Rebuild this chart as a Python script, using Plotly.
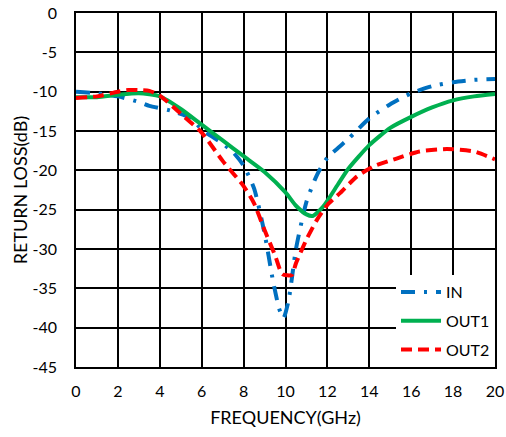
import plotly.graph_objects as go

in_freq = [0, 1, 2, 3, 3.5, 4.5, 5.5, 6, 7, 7.5, 8, 8.5, 9, 9.4, 9.7, 9.9, 10.15, 10.5, 11, 11.5, 12, 13, 14, 15, 16, 17, 18, 19, 20]
in_db = [-10.0, -10.2, -10.6, -11.3, -11.8, -12.4, -13.4, -14.8, -16.6, -17.7, -19.4, -22.3, -28.0, -34.0, -37.6, -38.8, -36.5, -30.0, -24.0, -20.6, -18.4, -16.0, -13.4, -11.6, -10.2, -9.3, -8.8, -8.5, -8.4]

out1_freq = [0, 1, 2, 3, 4, 5, 6, 7, 8, 9, 10, 10.5, 11, 11.3, 11.8, 12.5, 13, 14, 15, 16, 17, 18, 19, 20]
out1_db = [-10.7, -10.7, -10.4, -10.2, -10.6, -12.2, -14.2, -16.2, -18.2, -20.2, -22.8, -24.5, -25.6, -25.8, -24.6, -21.8, -19.8, -16.8, -14.6, -13.2, -12.0, -11.1, -10.6, -10.3]

out2_freq = [0, 1, 2, 2.5, 3, 3.5, 4, 5, 6, 7, 8, 8.5, 9, 9.5, 9.85, 10.3, 10.5, 11, 11.5, 12, 12.6, 13.4, 14.2, 15.3, 16.4, 17.7, 19, 20]
out2_db = [-10.8, -10.6, -10.0, -9.8, -9.8, -9.9, -10.5, -12.8, -15.2, -18.8, -22.0, -24.2, -27.6, -30.8, -33.2, -33.3, -31.8, -28.8, -26.3, -24.4, -22.9, -20.8, -19.5, -18.5, -17.6, -17.3, -17.6, -18.6]

x_ticks = [0, 2, 4, 6, 8, 10, 12, 14, 16, 18, 20]
y_ticks = [0, -5, -10, -15, -20, -25, -30, -35, -40, -45]
y_tick_text = ["0", "-5", "-10", "-15", "-20", "-25", "-30", "-35", "-40", "-45"]

FONT = "Lato, sans-serif"

fig = go.Figure()
fig.add_trace(go.Scatter(x=in_freq, y=in_db, name="IN", mode="lines", legendgroup="a",
                         line=dict(color="#0070C0", width=4, dash="14px,9px,3px,9px", shape="spline", smoothing=0.6)))
fig.add_trace(go.Scatter(x=out1_freq, y=out1_db, name="OUT1", mode="lines", legendgroup="b",
                         line=dict(color="#00B050", width=4, shape="spline", smoothing=0.6)))
fig.add_trace(go.Scatter(x=out2_freq, y=out2_db, name="OUT2", mode="lines", legendgroup="c",
                         line=dict(color="#FF0000", width=4, dash="11px,6px", shape="spline", smoothing=0.6)))

axis_common = dict(showgrid=True, gridcolor="black", gridwidth=1.5, showline=True, linecolor="black",
                   linewidth=1.5, mirror=True, zeroline=False, ticks="", automargin=False,
                   tickfont=dict(family=FONT, size=16, color="black"))

fig.update_layout(
    width=506, height=437,
    margin=dict(l=76, r=11, t=13, b=70),
    paper_bgcolor="white", plot_bgcolor="white",
    font=dict(family=FONT, color="black"),
    xaxis=dict(range=[0, 20], tickvals=x_ticks, ticklabelstandoff=9,
               title=dict(text="FREQUENCY(GHz)", font=dict(family=FONT, size=18, color="black"), standoff=12), **axis_common),
    yaxis=dict(range=[-45, 0], tickvals=y_ticks, ticktext=y_tick_text, ticklabelstandoff=14,
               title=dict(text="RETURN LOSS(dB)", font=dict(family=FONT, size=18, color="black"), standoff=0), **axis_common),
    legend=dict(x=1, xanchor="right", y=0, yanchor="bottom", bgcolor="white", borderwidth=0,
                font=dict(family=FONT, size=16, color="black"), itemwidth=40, tracegroupgap=5,
                traceorder="grouped"),
)

fig.write_html("out.html", config={"displayModeBar": False},
               post_script="document.body.style.margin='0';document.body.style.overflow='hidden';")
